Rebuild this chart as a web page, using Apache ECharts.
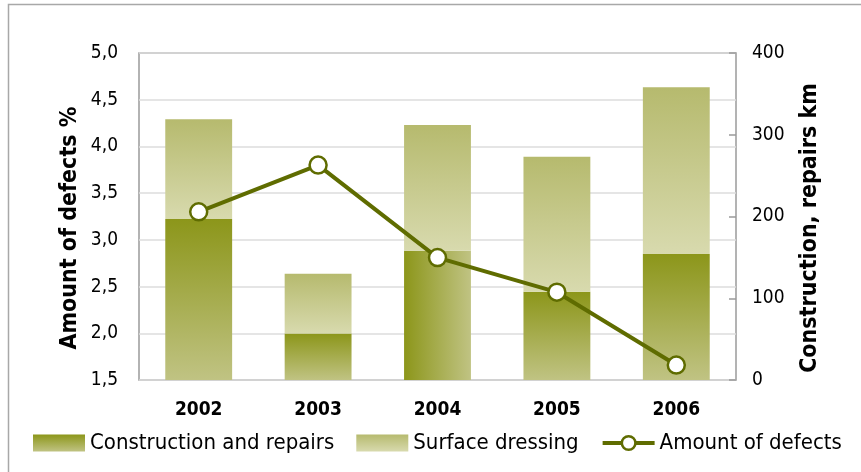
<!DOCTYPE html>
<html>
<head>
<meta charset="utf-8">
<script src="https://cdn.jsdelivr.net/npm/echarts@6/dist/echarts.min.js"></script>
<style>
  html, body { margin: 0; padding: 0; background: #fff; }
  #chart { width: 861px; height: 472px; }
</style>
</head>
<body>
<div id="chart"></div>
<script>
const years = ['2002', '2003', '2004', '2005', '2006']
const constructionKm = [197, 57, 158, 108, 154]
const surfaceKm = [122, 73, 154, 165, 204]
const defectsPct = [3.30, 3.80, 2.81, 2.44, 1.66]
const leftTicks = { min: 1.5, max: 5, interval: 0.5 }
const rightTicks = { min: 0, max: 400, interval: 100 }

const FONT = '"DejaVu Sans Condensed", "Open Sans", sans-serif'
const LINE = '#5f6c00'

const vGrad = (top, bottom) => new echarts.graphic.LinearGradient(0, 0, 0, 1, [
  { offset: 0, color: top },
  { offset: 1, color: bottom }
])
const darkFill = vGrad('#8c961a', '#c0c383')
const lightFill = vGrad('#b6ba6e', '#d8daae')
// 2004 is shaded left to right in the original
const darkFillSide = new echarts.graphic.LinearGradient(0, 0, 1, 0, [
  { offset: 0, color: '#8c961a' },
  { offset: 1, color: '#c0c383' }
])

const chart = echarts.init(document.getElementById('chart'))

chart.setOption({
  animation: false,
  textStyle: { fontFamily: FONT },
  grid: {
    left: 139,
    right: 125,
    top: 53,
    bottom: 92,
    show: true,
    borderColor: '#9a9a9a',
    borderWidth: 1.5,
    backgroundColor: '#fff'
  },
  graphic: [
    {
      type: 'rect',
      shape: { x: 8.5, y: 4.5, width: 900, height: 520 },
      style: { fill: 'none', stroke: '#a8a8a8', lineWidth: 1.5 },
      z: -1
    },
    {
      type: 'text',
      x: 70, y: 228,
      rotation: Math.PI / 2,
      style: {
        text: 'Amount of defects %',
        font: 'bold 23px ' + FONT,
        fill: '#000',
        align: 'center',
        verticalAlign: 'middle'
      }
    },
    {
      type: 'text',
      x: 810, y: 228,
      rotation: Math.PI / 2,
      style: {
        text: 'Construction, repairs km',
        font: 'bold 23px ' + FONT,
        fill: '#000',
        align: 'center',
        verticalAlign: 'middle'
      }
    }
  ],
  legend: {
    top: 432,
    left: 33,
    padding: 0,
    itemWidth: 52,
    itemHeight: 17,
    itemGap: 22,
    textStyle: { fontSize: 22, color: '#000', fontFamily: FONT },
    data: [
      { name: 'Construction and repairs', icon: 'rect' },
      { name: 'Surface dressing', icon: 'rect' },
      {
        name: 'Amount of defects',
        lineStyle: { width: 4, color: LINE },
        itemStyle: { color: '#fff', borderColor: LINE, borderWidth: 2.5 }
      }
    ]
  },
  xAxis: {
    type: 'category',
    data: years,
    axisLine: { show: false },
    axisTick: { show: false },
    axisLabel: { margin: 21, fontSize: 19, fontWeight: 'bold', color: '#000' }
  },
  yAxis: [
    {
      type: 'value',
      min: leftTicks.min,
      max: leftTicks.max,
      interval: leftTicks.interval,
      axisLine: { show: false },
      axisTick: { show: false },
      axisLabel: {
        margin: 21,
        fontSize: 19,
        color: '#000',
        formatter: v => v.toFixed(1).replace('.', ',')
      },
      splitLine: { lineStyle: { color: '#dcdcdc', width: 1.5 } }
    },
    {
      type: 'value',
      min: rightTicks.min,
      max: rightTicks.max,
      interval: rightTicks.interval,
      position: 'right',
      axisLine: { show: false },
      axisTick: { show: true, inside: true, length: 7, lineStyle: { color: '#9a9a9a', width: 1.5 } },
      axisLabel: { margin: 16, fontSize: 19, color: '#000' },
      splitLine: { show: false }
    }
  ],
  series: [
    {
      name: 'Construction and repairs',
      type: 'bar',
      yAxisIndex: 1,
      stack: 'km',
      barWidth: '56%',
      itemStyle: { color: darkFill },
      data: constructionKm.map((v, i) => years[i] === '2004'
        ? { value: v, itemStyle: { color: darkFillSide } }
        : v)
    },
    {
      name: 'Surface dressing',
      type: 'bar',
      yAxisIndex: 1,
      stack: 'km',
      barWidth: '56%',
      itemStyle: { color: lightFill },
      data: surfaceKm
    },
    {
      name: 'Amount of defects',
      type: 'line',
      yAxisIndex: 0,
      symbol: 'circle',
      symbolSize: 17,
      lineStyle: { color: LINE, width: 4 },
      itemStyle: { color: '#fff', borderColor: LINE, borderWidth: 2.5 },
      z: 5,
      data: defectsPct
    }
  ]
})
</script>
</body>
</html>
